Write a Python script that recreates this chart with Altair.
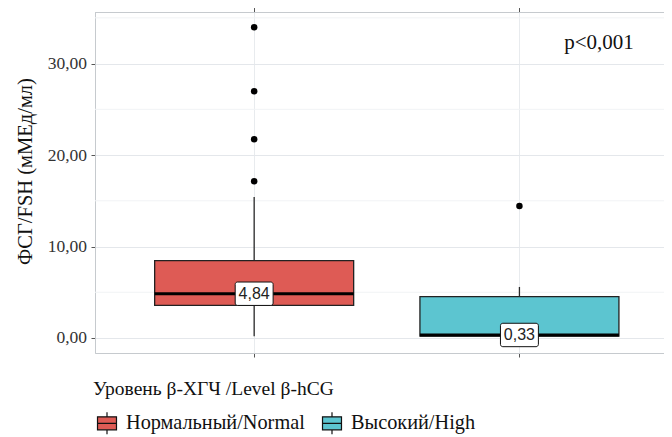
import altair as alt
import pandas as pd

# ---- data ----
groups = ["Нормальный/Normal", "Высокий/High"]
group_pos = [1, 2]
q1 = [3.57, 0.20]
median = [4.84, 0.33]
q3 = [8.46, 4.52]
whisk_lo = [0.19, 0.10]
whisk_hi = [15.41, 5.58]
median_labels = ["4,84", "0,33"]

out_group = ["Нормальный/Normal"] * 4 + ["Высокий/High"]
out_pos = [1, 1, 1, 1, 2]
out_val = [33.97, 26.97, 21.73, 17.13, 14.43]

y_ticks = [0, 10, 20, 30]
minor_grid = [5, 15, 25, 35]
colors = ["#DE5B55", "#5CC5D0"]
p_text = ["p<0,001"]
p_pos = [2.3]
p_val = [32.2]

box_df = pd.DataFrame({
    "group": groups, "pos": group_pos, "q1": q1, "median": median,
    "q3": q3, "lo": whisk_lo, "hi": whisk_hi, "label": median_labels,
})
out_df = pd.DataFrame({"group": out_group, "pos": out_pos, "val": out_val})
minor_df = pd.DataFrame({"v": minor_grid})
p_df = pd.DataFrame({"t": p_text, "pos": p_pos, "val": p_val})

serif = "Liberation Serif"
border = "#C6CACE"

xscale = alt.Scale(domain=[0.4, 2.545], nice=False, zero=False, padding=0)
yscale = alt.Scale(domain=[-1.64, 35.64], nice=False, zero=False, padding=0)

X = alt.X("pos:Q", scale=xscale, axis=alt.Axis(
    values=group_pos, labels=False, title=None, grid=True,
    gridColor="#E8EBEE", domainColor=border, tickColor="#555",
    tickSize=4))
X_top = alt.X("pos:Q", scale=xscale, axis=alt.Axis(
    orient="top", values=group_pos, labels=False, ticks=False, title=None,
    grid=False, domainColor=border))
Y_axis = alt.Axis(
    values=y_ticks, title="ФСГ/FSH (мМЕд/мл)",
    labelExpr="replace(format(datum.value, '.2f'), '.', ',')",
    labelFont=serif, labelFontSize=17.5, labelColor="#333",
    labelPadding=4.5, tickSize=4, tickColor="#555",
    gridColor="#E4E7EB", domainColor=border,
    titleFont=serif, titleFontSize=20.5, titleFontWeight="normal",
    titleColor="#111", titleX=-70, titleY=159, titleAngle=270,
    titleAlign="center", titleBaseline="middle")

base = alt.Chart(box_df)

minor = alt.Chart(minor_df).mark_rule(color="#F1F3F5", strokeWidth=1).encode(
    y=alt.Y("v:Q", scale=yscale, axis=Y_axis))

whisk = base.mark_rule(color="#2a2a2a", strokeWidth=1.3).encode(
    x=X, y=alt.Y("lo:Q", scale=yscale), y2="hi:Q")

legend_path = "M-0.73,-0.5H0.73V0.5H-0.73Z M-0.73,0H0.73 M0,-0.85V-0.5 M0,0.5V0.85"
box = base.mark_bar(size=199, stroke="#222", strokeWidth=1.3, opacity=1).encode(
    x=X, y=alt.Y("q1:Q", scale=yscale), y2="q3:Q",
    color=alt.Color("group:N", scale=alt.Scale(domain=groups, range=colors),
                    legend=alt.Legend(
                        title="Уровень β-ХГЧ /Level β-hCG",
                        orient="none", legendX=-2, legendY=368,
                        direction="horizontal",
                        titleFont=serif, titleFontSize=19.5, titleFontWeight="normal",
                        titleColor="#111", titlePadding=9.5, titleLimit=600,
                        labelFont=serif, labelFontSize=20.3, labelColor="#111",
                        labelLimit=400,
                        symbolType=legend_path, symbolSize=676,
                        symbolStrokeColor="#111", symbolStrokeWidth=1.2,
                        symbolOpacity=1, labelOffset=5, columnPadding=13)))

med = base.mark_bar(size=199, fill="black", stroke="black", strokeWidth=2.8).encode(
    x=X, y=alt.Y("median:Q", scale=yscale), y2="median:Q")

label_shape = ("M-1.42,-1H1.42A0.2,0.2 0 0 1 1.62,-0.8V0.8A0.2,0.2 0 0 1 1.42,1"
               "H-1.42A0.2,0.2 0 0 1 -1.62,0.8V-0.8A0.2,0.2 0 0 1 -1.42,-1Z")
lab_bg = base.mark_point(shape=label_shape, size=548, filled=True, fill="white",
                         stroke="#111", strokeWidth=1, opacity=1).encode(
    x=X, y=alt.Y("median:Q", scale=yscale))
lab_txt = base.mark_text(font="Liberation Sans", fontSize=16, color="#222").encode(
    x=X, y=alt.Y("median:Q", scale=yscale), text="label:N")

outl = alt.Chart(out_df).mark_circle(size=42, color="black", opacity=1).encode(
    x=X, y=alt.Y("val:Q", scale=yscale))

ptxt = alt.Chart(p_df).mark_text(font=serif, fontSize=21, color="#111").encode(
    x=X_top, y=alt.Y("val:Q", scale=yscale), text="t:N")

chart = alt.layer(minor, whisk, box, med, outl, lab_bg, lab_txt, ptxt).resolve_axis(
    x="independent"
).properties(
    width=569, height=341,
    autosize=alt.AutoSizeParams(type="none"),
    padding={"left": 87, "top": 4, "right": 0, "bottom": 84},
).configure_view(stroke=None).configure(background="white")

chart.save("out.html", embed_options={"renderer": "svg", "actions": False})
